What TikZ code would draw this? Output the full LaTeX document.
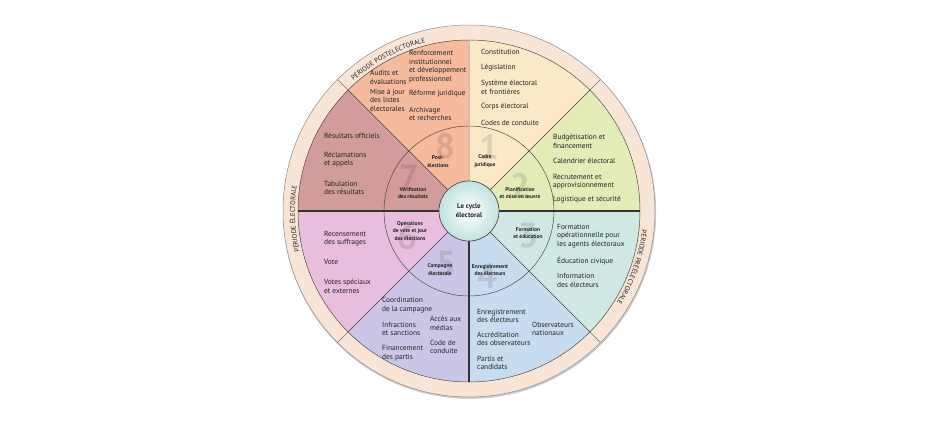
\documentclass[tikz,border=0pt]{standalone}
\usepackage{fontspec}
\setmainfont{PT Sans}
\usetikzlibrary{decorations.text,shadings}
\definecolor{cA}{HTML}{FBE8C6}
\definecolor{cB}{HTML}{E3EBB6}
\definecolor{cC}{HTML}{CFE8E4}
\definecolor{cD}{HTML}{C8DCEF}
\definecolor{cE}{HTML}{CAC7E6}
\definecolor{cF}{HTML}{E8BEDC}
\definecolor{cG}{HTML}{D39C9C}
\definecolor{cH}{HTML}{F6BA9D}
\definecolor{ringc}{HTML}{F9E5D6}
\definecolor{txt}{HTML}{222222}
\definecolor{hubc}{HTML}{BFE3E0}
\begin{document}
\begin{tikzpicture}[x=1pt,y=1pt,
  lbl/.style={font=\fontsize{7.4}{8.6}\selectfont, align=left, anchor=west, inner sep=0pt, text=txt},
  ilbl/.style={font=\bfseries\fontsize{5.5}{7.3}\selectfont, align=center, inner sep=0pt, text=txt},
  digit/.style={font=\bfseries\fontsize{35}{35}\selectfont, inner sep=0pt, text=black, text opacity=0.11},
  diag/.style={draw=black!75, line width=0.6pt},
  sep/.style={draw=black!55, line width=0.5pt},
  ringtext/.style={decorate, decoration={text along path, text align=center,
     text={|\fontsize{6.8}{6.8}\selectfont\color{txt}|#1}}}]
\useasboundingbox (-469,-210) rectangle (471,211);
% ring
\fill[black!40, opacity=0.5] (0.6,-1.3) circle (186.6);
\filldraw[fill=ringc, draw=black!45, line width=0.5pt] (0,0) circle (186);
% sectors
\foreach \a/\b/\c in {90/45/cA, 45/0/cB, 0/-45/cC, -45/-90/cD, -90/-135/cE, -135/-180/cF, 180/135/cG, 135/90/cH}
  \fill[\c] (0,0) -- (\a:171) arc (\a:\b:171) -- cycle;
\draw[black!70, line width=0.5pt] (0,0) circle (171);
% big digits
\node[digit] (d8) at (-24,65) {8};
\node[digit] (d1) at (20,64) {1};
\node[digit] (d7) at (-60,34) {7};
\node[digit] (d2) at (51,25) {2};
\node[digit] (d3) at (59,-24) {3};
\node[digit] (d4) at (18,-65) {4};
\node[digit] (d5) at (-23,-52) {5};
\node[digit] (d6) at (-62,-26) {6};
% inner circle and dividers
\draw[black!70, line width=0.5pt] (0,0) circle (85);
\foreach \a in {45,135,-45,-135} \draw[diag] (0,0) -- (\a:171);
\draw[black!25, line width=0.6pt] (0,0) -- (0,171);
\draw[black!80, line width=1.1pt] (0,0) -- (0,-171);
\draw[black!80, line width=1.3pt] (-171,0) -- (171,0);
\foreach \a in {45,135,-45,-135} \draw[sep] (\a:171) -- (\a:186);
% period labels
\path[ringtext={PÉRIODE POSTÉLECTORALE}] (148:174) arc (148:88:174);
\path[ringtext={PÉRIODE PRÉÉLECTORALE}] (11:174) arc (11:-49:174);
\path[ringtext={PÉRIODE ÉLECTORALE}] (212.5:174) arc (212.5:152.5:174);
% hub
\node[circle, minimum size=60pt, inner sep=0pt, draw=black!70, line width=0.7pt,
  inner color=white, outer color=hubc, font=\bfseries\fontsize{7}{9}\selectfont,
  align=center, text=txt] (hub) at (0,0) {Le cycle\\électoral};
% inner labels
\node[ilbl] (i8) at (-31,49.5) {Post-\\élections};
\node[ilbl] (i1) at (16,50) {Cadre\\juridique};
\node[ilbl] (i2) at (51,18) {Planification\\et mise en œuvre};
\node[ilbl] (i3) at (59,-22) {Formation\\et éducation};
\node[ilbl] (i4) at (21,-59) {Enregistrement\\des électeurs};
\node[ilbl] (i5) at (-29,-58.5) {Campagne\\électorale};
\node[ilbl] (i6) at (-59,-20) {Opérations\\de vote et jour\\des élections};
\node[ilbl] (i7) at (-56,18) {Vérification\\des résultats};
% sector 8
\node[lbl] (s8a) at (-99,133.5) {Audits et\\évaluations};
\node[lbl] (s8b) at (-99,111) {Mise à jour\\des listes\\électorales};
\node[lbl] (s8c) at (-60,144.5) {Renforcement\\institutionnel\\et développement\\professionnel};
\node[lbl] (s8d) at (-60,117) {Réforme juridique};
\node[lbl] (s8e) at (-60,97) {Archivage\\et recherches};
% sector 1
\node[lbl] (s1a) at (12,159) {Constitution};
\node[lbl] (s1b) at (12,143) {Législation};
\node[lbl] (s1c) at (12,123.5) {Système électoral\\et frontières};
\node[lbl] (s1d) at (12,104) {Corps électoral};
\node[lbl] (s1e) at (12,88) {Codes de conduite};
% sector 2
\node[lbl] (s2a) at (84,69.5) {Budgétisation et\\financement};
\node[lbl] (s2b) at (84,50) {Calendrier électoral};
\node[lbl] (s2c) at (84,29.5) {Recrutement et\\approvisionnement};
\node[lbl] (s2d) at (84,11) {Logistique et sécurité};
% sector 3
\node[lbl] (s3a) at (88,-25) {Formation\\opérationnelle pour\\les agents électoraux};
\node[lbl] (s3b) at (88,-50) {Éducation civique};
\node[lbl] (s3c) at (88,-69.5) {Information\\des électeurs};
% sector 4
\node[lbl] (s4a) at (8,-105) {Enregistrement\\des électeurs};
\node[lbl] (s4b) at (8,-128) {Accréditation\\des observateurs};
\node[lbl] (s4c) at (8,-152) {Partis et\\candidats};
\node[lbl] (s4d) at (63,-118) {Observateurs\\nationaux};
% sector 5
\node[lbl] (s5a) at (-87,-94) {Coordination\\de la campagne};
\node[lbl] (s5b) at (-87,-118) {Infractions\\et sanctions};
\node[lbl] (s5c) at (-87,-142) {Financement\\des partis};
\node[lbl] (s5d) at (-39,-112.5) {Accès aux\\médias};
\node[lbl] (s5e) at (-39,-136) {Code de\\conduite};
% sector 6
\node[lbl] (s6a) at (-145,-27.5) {Recensement\\des suffrages};
\node[lbl] (s6b) at (-145,-51) {Vote};
\node[lbl] (s6c) at (-145,-75.5) {Votes spéciaux\\et externes};
% sector 7
\node[lbl] (s7a) at (-145,75) {Résultats officiels};
\node[lbl] (s7b) at (-145,51.5) {Réclamations\\et appels};
\node[lbl] (s7c) at (-145,23) {Tabulation\\des résultats};
\end{tikzpicture}
\end{document}
